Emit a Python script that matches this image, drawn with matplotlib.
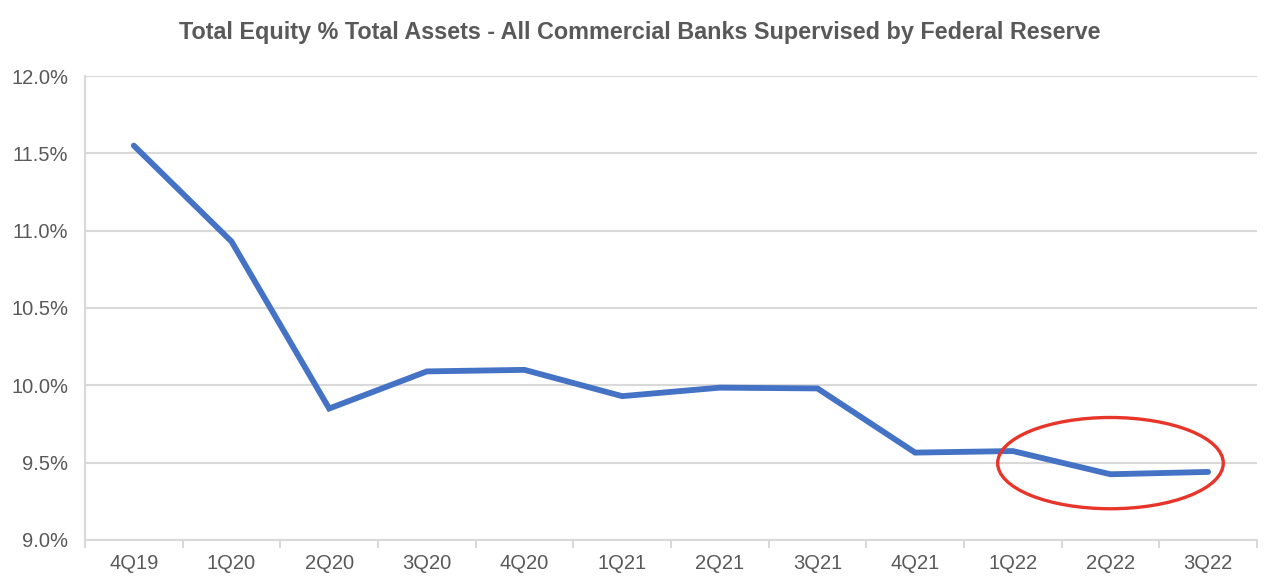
import numpy as np
import matplotlib.pyplot as plt
from matplotlib.patches import Ellipse
from matplotlib.ticker import FuncFormatter, MultipleLocator, FixedLocator

plt.rcParams['font.family'] = ['Liberation Sans', 'DejaVu Sans']

# quarters and equity / assets ratio (%)
quarters = ["4Q19", "1Q20", "2Q20", "3Q20", "4Q20", "1Q21",
            "2Q21", "3Q21", "4Q21", "1Q22", "2Q22", "3Q22"]
equity_pct = [11.55, 10.93, 9.85, 10.09, 10.10, 9.93,
              9.985, 9.98, 9.565, 9.575, 9.425, 9.44]

grey = "#595959"
gridc = "#D9D9D9"

fig = plt.figure(figsize=(12.8, 5.87), dpi=100)
ax = fig.add_axes([0.0664, 0.0801, 0.9156, 0.7904])

x = np.arange(len(quarters))
ax.plot(x, equity_pct, color="#4472C4", linewidth=4.2, solid_capstyle="round",
        solid_joinstyle="miter", zorder=3)

# highlight circle around last two quarters
ell = Ellipse((10.0, 9.497), width=2.31, height=0.59, fill=False,
              edgecolor="#E8352A", linewidth=2.4, zorder=4)
ax.add_patch(ell)

ax.set_xlim(-0.5, len(quarters) - 0.5)
ax.set_ylim(9.0, 12.0)
ax.yaxis.set_major_locator(MultipleLocator(0.5))
ax.yaxis.set_major_formatter(FuncFormatter(lambda v, p: "%.1f%%" % v))
ax.set_xticks(x)
ax.set_xticklabels(quarters)
ax.xaxis.set_minor_locator(FixedLocator(np.arange(-0.5, len(quarters), 1.0)))

ax.grid(axis="y", color=gridc, linewidth=1.5, zorder=0)
ax.set_axisbelow(True)
for s in ["top", "right"]:
    ax.spines[s].set_visible(False)
for s in ["left", "bottom"]:
    ax.spines[s].set_color(gridc)
    ax.spines[s].set_linewidth(1.5)

ax.tick_params(axis="y", length=0, pad=12, labelsize=14.5, labelcolor=grey)
ax.tick_params(axis="x", which="major", length=0, pad=10, labelsize=14.5, labelcolor=grey)
ax.tick_params(axis="x", which="minor", length=6, width=1.5, color=gridc)

fig.text(0.5, 0.945, "Total Equity % Total Assets - All Commercial Banks Supervised by Federal Reserve",
         ha="center", va="center", fontsize=16.8, fontweight="bold", color=grey)

fig.savefig("out.png", dpi=100, facecolor="white")
